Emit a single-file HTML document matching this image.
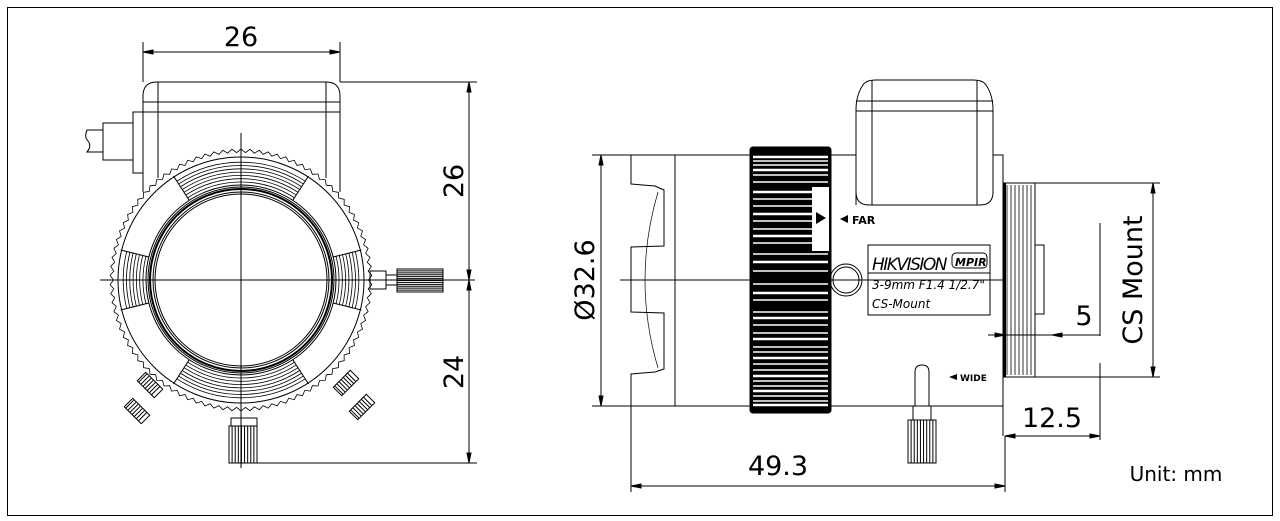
<!DOCTYPE html>
<html><head><meta charset="utf-8"><style>
html,body{margin:0;padding:0;background:#fff;width:1280px;height:521px;overflow:hidden}
svg{display:block}
text{font-family:"DejaVu Sans","Liberation Sans",sans-serif;fill:#000}
</style></head><body>
<svg id="s" width="1280" height="521" viewBox="0 0 1280 521" xmlns="http://www.w3.org/2000/svg" fill="none" stroke="#000" stroke-width="1">
<rect x="7.5" y="7.5" width="1265" height="508" />
<!-- LEFT VIEW -->
<g id="L">
<path d="M143,192 V96 Q143,82 157,82 H326 Q340,82 340,96 V192"/>
<line x1="143" y1="102" x2="340" y2="102"/>
<line x1="143" y1="112" x2="340" y2="112"/>
<line x1="158" y1="82" x2="158" y2="178"/>
<line x1="326" y1="82" x2="326" y2="178"/>
<rect x="133" y="112" width="10" height="61"/>
<rect x="103" y="123" width="30" height="37"/>
<path d="M103,130 H87 Q84,137 88,141 Q92,146 87,152 H103"/>
<circle cx="241" cy="280" r="123"/>
<circle cx="241" cy="280" r="95"/>
<circle cx="241" cy="280" r="93"/>
<circle cx="241" cy="280" r="91" stroke-width="2"/>
<circle cx="241" cy="280" r="88"/>
<circle cx="241" cy="280" r="86"/>
<line x1="100" y1="280" x2="475" y2="280"/>
<line x1="241" y1="133" x2="241" y2="468"/>
<rect x="370" y="271" width="16" height="18"/>
<rect x="386" y="275" width="11" height="10"/>
<rect x="397" y="269" width="46" height="23"/>
<rect x="231" y="418" width="26" height="8"/>
<rect x="229" y="426" width="28" height="37"/>
</g>
<g id="gen"></g>
<!-- left dims -->
<line x1="143" y1="42" x2="143" y2="82"/>
<line x1="340" y1="42" x2="340" y2="82"/>
<line x1="143" y1="52" x2="340" y2="52"/>
<path d="M143,52 l10,-2 v4z M340,52 l-10,-2 v4z" fill="#000"/>
<text x="241" y="46" font-size="27" text-anchor="middle" stroke="none">26</text>
<line x1="340" y1="82" x2="477" y2="82"/>
<line x1="257" y1="463" x2="477" y2="463"/>
<line x1="469" y1="82" x2="469" y2="463"/>
<path d="M469,82 l-2,10 h4z M469,280 l-2,-10 h4z M469,280 l-2,10 h4z M469,463 l-2,-10 h4z" fill="#000"/>
<text transform="translate(463,181) rotate(-90)" font-size="27" text-anchor="middle" stroke="none">26</text>
<text transform="translate(463,372) rotate(-90)" font-size="27" text-anchor="middle" stroke="none">24</text>

<!-- RIGHT VIEW -->
<path d="M631,155 H750 M831,155 H856 M993,155 H1003 V436 M631,406 H750 M831,406 H1003"/>
<path d="M631,155 V184 L655,186 L664,190 V246 L631,247 V312 L664,313 V369 L655,372 L631,374 V406"/>
<path d="M658,192 Q632,280 658,368" stroke-width="0.7"/>
<line x1="675" y1="155" x2="675" y2="406"/>
<rect x="750" y="147" width="81" height="266" rx="3" fill="#000"/>
<g id="stripes" stroke="#fff"></g>
<rect x="812" y="187" width="17" height="64" fill="#fff" stroke="none"/>
<path d="M816,212 l10,6 l-10,6z M848,215 l-8,4 l8,4z" fill="#000" stroke="none"/>
<text x="852" y="224" font-size="11" font-weight="bold" stroke="none">FAR</text>
<path d="M856,205 V110 Q856,95 863,85 Q866,80 876,80 H973 Q983,80 986,85 Q993,95 993,110 V192 Q993,205 980,205 H869 Q856,205 856,192z"/>
<line x1="856" y1="101" x2="993" y2="101"/>
<line x1="856" y1="111" x2="993" y2="111"/>
<line x1="872" y1="80" x2="872" y2="205"/>
<line x1="977" y1="80" x2="977" y2="205"/>
<circle cx="846" cy="280" r="16"/>
<circle cx="846" cy="280" r="13"/>
<rect x="868" y="245" width="122" height="70"/>
<line x1="868" y1="273" x2="990" y2="273"/>
<text x="872" y="270" font-size="17" font-style="italic" letter-spacing="-1.5" stroke="none">HIKVISION</text>
<rect x="952" y="253" width="35" height="15" rx="4"/>
<text x="955" y="266" font-size="11" font-style="italic" font-weight="bold" stroke="none">MPIR</text>
<text x="872" y="289" font-size="12" font-style="italic" stroke="none">3-9mm  F1.4  1/2.7"</text>
<text x="872" y="308" font-size="12" font-style="italic" stroke="none">CS-Mount</text>
<line x1="620" y1="280" x2="1005" y2="280"/>
<path d="M915,406 V372 Q915,365 922,365 Q929,365 929,372 V406"/>
<rect x="913" y="406" width="18" height="14"/>
<rect x="908" y="420" width="28" height="43"/>
<path d="M957,374 l-8,3 l8,3z" fill="#000" stroke="none"/>
<text x="960" y="381" font-size="9" font-weight="bold" stroke="none">WIDE</text>
<!-- thread -->
<rect x="1004" y="183" width="31" height="194" />
<g id="thread"></g>
<rect x="1035" y="245" width="9" height="69"/>
<!-- right dims -->
<line x1="592" y1="155" x2="631" y2="155"/>
<line x1="592" y1="406" x2="631" y2="406"/>
<line x1="601" y1="155" x2="601" y2="406"/>
<path d="M601,155 l-2,10 h4z M601,406 l-2,-10 h4z" fill="#000"/>
<text transform="translate(594,280) rotate(-90)" font-size="27" text-anchor="middle" stroke="none">Ø32.6</text>
<line x1="631" y1="406" x2="631" y2="492"/>
<line x1="1005" y1="436" x2="1005" y2="492"/>
<line x1="631" y1="486" x2="1005" y2="486"/>
<path d="M631,486 l10,-2 v4z M1005,486 l-10,-2 v4z" fill="#000"/>
<text x="778" y="475" font-size="27" text-anchor="middle" stroke="none">49.3</text>
<line x1="1100" y1="363" x2="1100" y2="440"/>
<line x1="1100" y1="223" x2="1100" y2="336"/>
<line x1="1005" y1="436" x2="1100" y2="436"/>
<path d="M1005,436 l10,-2 v4z M1100,436 l-10,-2 v4z" fill="#000"/>
<text x="1052" y="427" font-size="27" text-anchor="middle" stroke="none">12.5</text>
<line x1="988" y1="335" x2="1100" y2="335"/>
<path d="M1005,335 l-10,-2 v4z M1052,335 l10,-2 v4z" fill="#000"/>
<text x="1084" y="325" font-size="27" text-anchor="middle" stroke="none">5</text>
<line x1="1035" y1="183" x2="1160" y2="183"/>
<line x1="1035" y1="377" x2="1160" y2="377"/>
<line x1="1153" y1="183" x2="1153" y2="377"/>
<path d="M1153,183 l-2,10 h4z M1153,377 l-2,-10 h4z" fill="#000"/>
<text transform="translate(1142,280) rotate(-90)" font-size="27" text-anchor="middle" stroke="none">CS Mount</text>
<text x="1176" y="481" font-size="20" text-anchor="middle" stroke="none">Unit: mm</text>
</svg>
<script>
var NS="http://www.w3.org/2000/svg",g=document.getElementById('gen');
function el(p,t,a){var e=document.createElementNS(NS,t);for(var k in a)e.setAttribute(k,a[k]);p.appendChild(e);return e;}
var cx=241,cy=280;
// gear teeth
var d="";for(var i=0;i<=180;i++){var a=i/180*2*Math.PI,r=(i%2?131:127.5);d+=(i?"L":"M")+(cx+r*Math.cos(a)).toFixed(1)+","+(cy+r*Math.sin(a)).toFixed(1);}
el(g,'path',{d:d,'stroke-width':'0.8'});
// pads
function arcPad(c,w){for(var r=98;r<=121;r+=3.3){var a1=(c-w)*Math.PI/180,a2=(c+w)*Math.PI/180;
el(g,'path',{d:"M"+(cx+r*Math.cos(a1))+","+(cy+r*Math.sin(a1))+" A"+r+","+r+" 0 0 1 "+(cx+r*Math.cos(a2))+","+(cy+r*Math.sin(a2)),'stroke-width':'0.8'});}
var a1=(c-w)*Math.PI/180,a2=(c+w)*Math.PI/180;
el(g,'line',{x1:cx+95*Math.cos(a1),y1:cy+95*Math.sin(a1),x2:cx+124*Math.cos(a1),y2:cy+124*Math.sin(a1)});
el(g,'line',{x1:cx+95*Math.cos(a2),y1:cy+95*Math.sin(a2),x2:cx+124*Math.cos(a2),y2:cy+124*Math.sin(a2)});}
arcPad(-90,33);arcPad(90,33);arcPad(0,14);arcPad(180,14);
// knurl lines
function kn(x,y,w,h,n){for(var i=1;i<n;i++){el(g,'line',{x1:x+i*w/n,y1:y,x2:x+i*w/n,y2:y+h});}}
kn(229,426,28,37,9);kn(908,420,28,43,9);
for(var i=1;i<12;i++)el(g,'line',{x1:397,y1:269+i*23/12,x2:443,y2:269+i*23/12});
// angled knobs
function ak(x,y,ang){var gg=el(g,'g',{transform:"translate("+x+","+y+") rotate("+ang+")"});el(gg,'rect',{x:-12,y:-6,width:24,height:12});for(var i=-10;i<=10;i+=3)el(gg,'line',{x1:i,y1:-6,x2:i,y2:6});}
ak(150,385,45);ak(137,411,45);ak(346,383,-45);ak(362,407,-45);
// focus ring stripes
var s=document.getElementById('stripes');
var ys=[157,161,165,170,175,182,192,199,206,214,221,229,236,243,254,262,271,284,293,300,312,318,325,333,339,347,352,358,364,370,376,381,386,391,396,401,405];
ys.forEach(function(y,i){el(s,'line',{x1:753,y1:y,x2:828,y2:y,'stroke-width':(i%3==0?2.5:1.5)});});
// thread
var t=document.getElementById('thread');
for(var x=1007;x<1034;x+=4)el(t,'line',{x1:x,y1:185,x2:x,y2:375,'stroke-width':'0.8'});
el(t,'line',{x1:1005,y1:183,x2:1005,y2:377,'stroke-width':'2'});
</script>
</body></html>
